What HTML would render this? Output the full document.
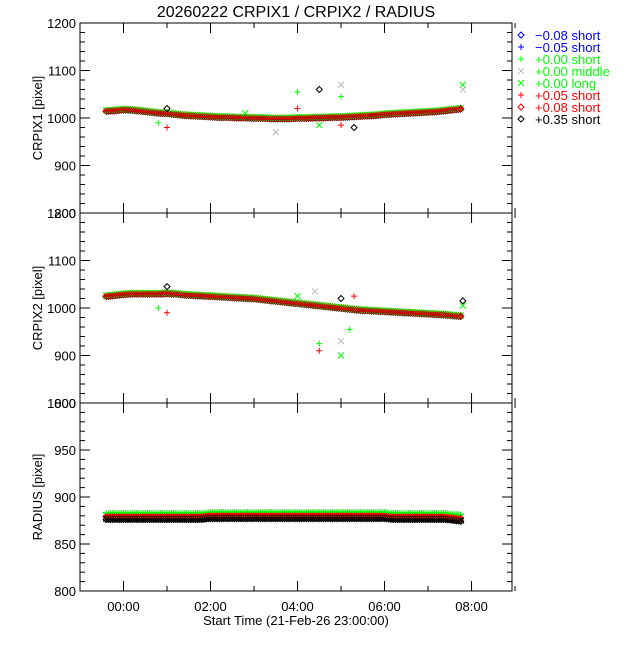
<!DOCTYPE html>
<html><head><meta charset="utf-8"><style>
body{margin:0;background:#fff}
svg text{font-family:"Liberation Sans",sans-serif;font-size:13px}
</style></head><body>
<svg id="c" width="640" height="640" xmlns="http://www.w3.org/2000/svg">
<rect width="640" height="640" fill="#fff"/>
<text x="296" y="17" text-anchor="middle" font-size="16" style="font-size:16px">20260222 CRPIX1 / CRPIX2 / RADIUS</text>
<text x="296" y="625" text-anchor="middle">Start Time (21-Feb-26 23:00:00)</text>
</svg>
<script>
const times=[-0.4,-0.2,0,0.2,0.4,0.6,0.8,1.0,1.2,1.4,1.6,1.8,2.0,2.2,2.4,2.6,2.8,3.0,3.2,3.4,3.6,3.8,4.0,4.2,4.4,4.6,4.8,5.0,5.2,5.4,5.6,5.8,6.0,6.2,6.4,6.6,6.8,7.0,7.2,7.4,7.6,7.75];
const crpix1=[1015,1016,1018,1017,1015,1013,1011,1010,1008,1006,1005,1004,1003,1002,1002,1001,1001,1000,1000,999,999,999,1000,1000,1001,1001,1002,1002,1003,1004,1005,1006,1008,1009,1010,1011,1012,1013,1014,1016,1018,1020];
const crpix2=[1025,1027,1029,1030,1030,1030,1030,1031,1030,1028,1027,1026,1025,1024,1023,1022,1021,1020,1018,1016,1014,1012,1010,1008,1006,1004,1002,1000,998,996,995,994,993,992,991,990,989,988,987,986,984,983];
const radius=[878,878,878,878,878,878,878,878,878,878,878,878,879,879,879,879,879,879,879,879,879,879,879,879,879,879,879,879,879,879,879,879,879,878,878,878,878,878,878,878,877,876];
const outT1=[0.8,1.0,1.0,2.8,3.5,4.0,4.0,4.5,4.5,5.0,5.0,5.0,5.3,7.8,7.8];
const outV1=[990,980,1020,1010,970,1055,1020,1060,985,1070,1045,985,980,1070,1060];
const outT2=[0.8,1.0,1.0,4.0,4.4,4.5,4.5,5.0,5.0,5.0,5.2,5.3,7.8,7.8];
const outV2=[1000,990,1045,1025,1035,925,910,1020,900,930,955,1025,1015,1005];
const legendVals=["\u22120.08 short","\u22120.05 short","+0.00 short","+0.00 middle","+0.00 long","+0.05 short","+0.08 short","+0.35 short"];
const legendCols=["#00f","#00f","#0f0","#bbb","#0f0","#f00","#f00","#000"];
const legendTextCols=["#00f","#00f","#0f0","#0f0","#0f0","#f00","#f00","#000"];
const legendSyms=["d","+","+","x","x","+","d","d"];
const svg=document.getElementById('c');const NS="http://www.w3.org/2000/svg";
const X0=80,X1=512;
function xs(t){return X0+(t+1)*(X1-X0)/9.93;}
const panels=[{top:23,bot:213,min:800,max:1200,step:100,minor:20,name:"crpix1",lab:"CRPIX1 [pixel]"},
{top:213,bot:403,min:800,max:1200,step:100,minor:20,name:"crpix2",lab:"CRPIX2 [pixel]"},
{top:403,bot:591,min:800,max:1000,step:50,minor:10,name:"radius",lab:"RADIUS [pixel]"}];
function mk(tag,a){const e=document.createElementNS(NS,tag);for(const k in a)e.setAttribute(k,a[k]);svg.appendChild(e);return e;}
function sym(type,x,y,col,name){let e;
 if(type==="d")e=mk('path',{d:`M${x} ${y-3}L${x+3} ${y}L${x} ${y+3}L${x-3} ${y}Z`,fill:"none",stroke:col,'stroke-width':1});
 else if(type==="+")e=mk('path',{d:`M${x-3} ${y}H${x+3}M${x} ${y-3}V${y+3}`,stroke:col,'stroke-width':1});
 else e=mk('path',{d:`M${x-3} ${y-3}L${x+3} ${y+3}M${x-3} ${y+3}L${x+3} ${y-3}`,stroke:col,'stroke-width':1});
 
 return e;}
panels.forEach((p,pi)=>{
 const ys=v=>p.bot-(v-p.min)*(p.bot-p.top)/(p.max-p.min);
 const r=mk('rect',{x:X0,y:p.top,width:X1-X0,height:p.bot-p.top,fill:"none",stroke:"#000"});
 
 
 for(let v=p.min;v<=p.max;v+=p.minor){const y=ys(v);const L=(v-p.min)%p.step===0?10:5;
  mk('line',{x1:X0,y1:y,x2:X0+L,y2:y,stroke:"#000"});mk('line',{x1:X1,y1:y,x2:X1-L,y2:y,stroke:"#000"});
  if((v-p.min)%p.step===0){const t=mk('text',{x:X0-4,y:y+5,'text-anchor':'end'});t.textContent=v;
   
   }}
 for(let h=-1;h<=9;h++){const x=xs(h);const L=h%2===0?10:5;
  mk('line',{x1:x,y1:p.bot,x2:x,y2:p.bot-L,stroke:"#000"});mk('line',{x1:x,y1:p.top,x2:x,y2:p.top+L,stroke:"#000"});
  if(pi===2&&h%2===0&&h>=0){const t=mk('text',{x:x,y:611,'text-anchor':'middle'});t.textContent=(h<10?'0':'')+h+':00';
   
   }}
 const yl=mk('text',{x:0,y:0,'text-anchor':'middle',transform:`translate(42,${(p.top+p.bot)/2}) rotate(-90)`});yl.textContent=p.lab;
 
 
 const vals=pi===0?crpix1:pi===1?crpix2:radius;
 const offs=pi===2?[[5,"#0f0","+"],[3,"#0f0","x"],[2,"#f00","+"],[1,"#f00","d"],[-1,"#000","x"],[-2,"#000","d"]]:[[2,"#0f0","+"],[1,"#0f0","x"],[0,"#f00","+"],[-1,"#000","d"],[0,"#f00","d"]];
 for(let i=0;i<times.length-1;i++){
  for(let k=0;k<4;k++){const tt=times[i]+k*0.05;const vv=vals[i]+(vals[i+1]-vals[i])*k/4;
   offs.forEach(o=>sym(o[2],xs(tt),ys(vv+o[0]),o[1],p.name+'-point'));}}
 offs.forEach(o=>sym(o[2],xs(times[times.length-1]),ys(vals[vals.length-1]+o[0]),o[1],p.name+'-point'));
 if(pi<2){const ot=pi===0?outT1:outT2,ov=pi===0?outV1:outV2;const cs=["#0f0","#f00","#000","#0f0","#bbb"];const ss=["+","+","d","x","x"];
  ot.forEach((t,i)=>sym(ss[i%5],xs(t),ys(ov[i]),cs[i%5],p.name+'-outlier'));}
});
legendVals.forEach((s,i)=>{const y=35+i*12;sym(legendSyms[i],521,y,legendCols[i],'legend-symbol');
 const t=mk('text',{x:535,y:y+5,fill:legendTextCols[i]});t.textContent=s;
 
 });
</script>
</body></html>
